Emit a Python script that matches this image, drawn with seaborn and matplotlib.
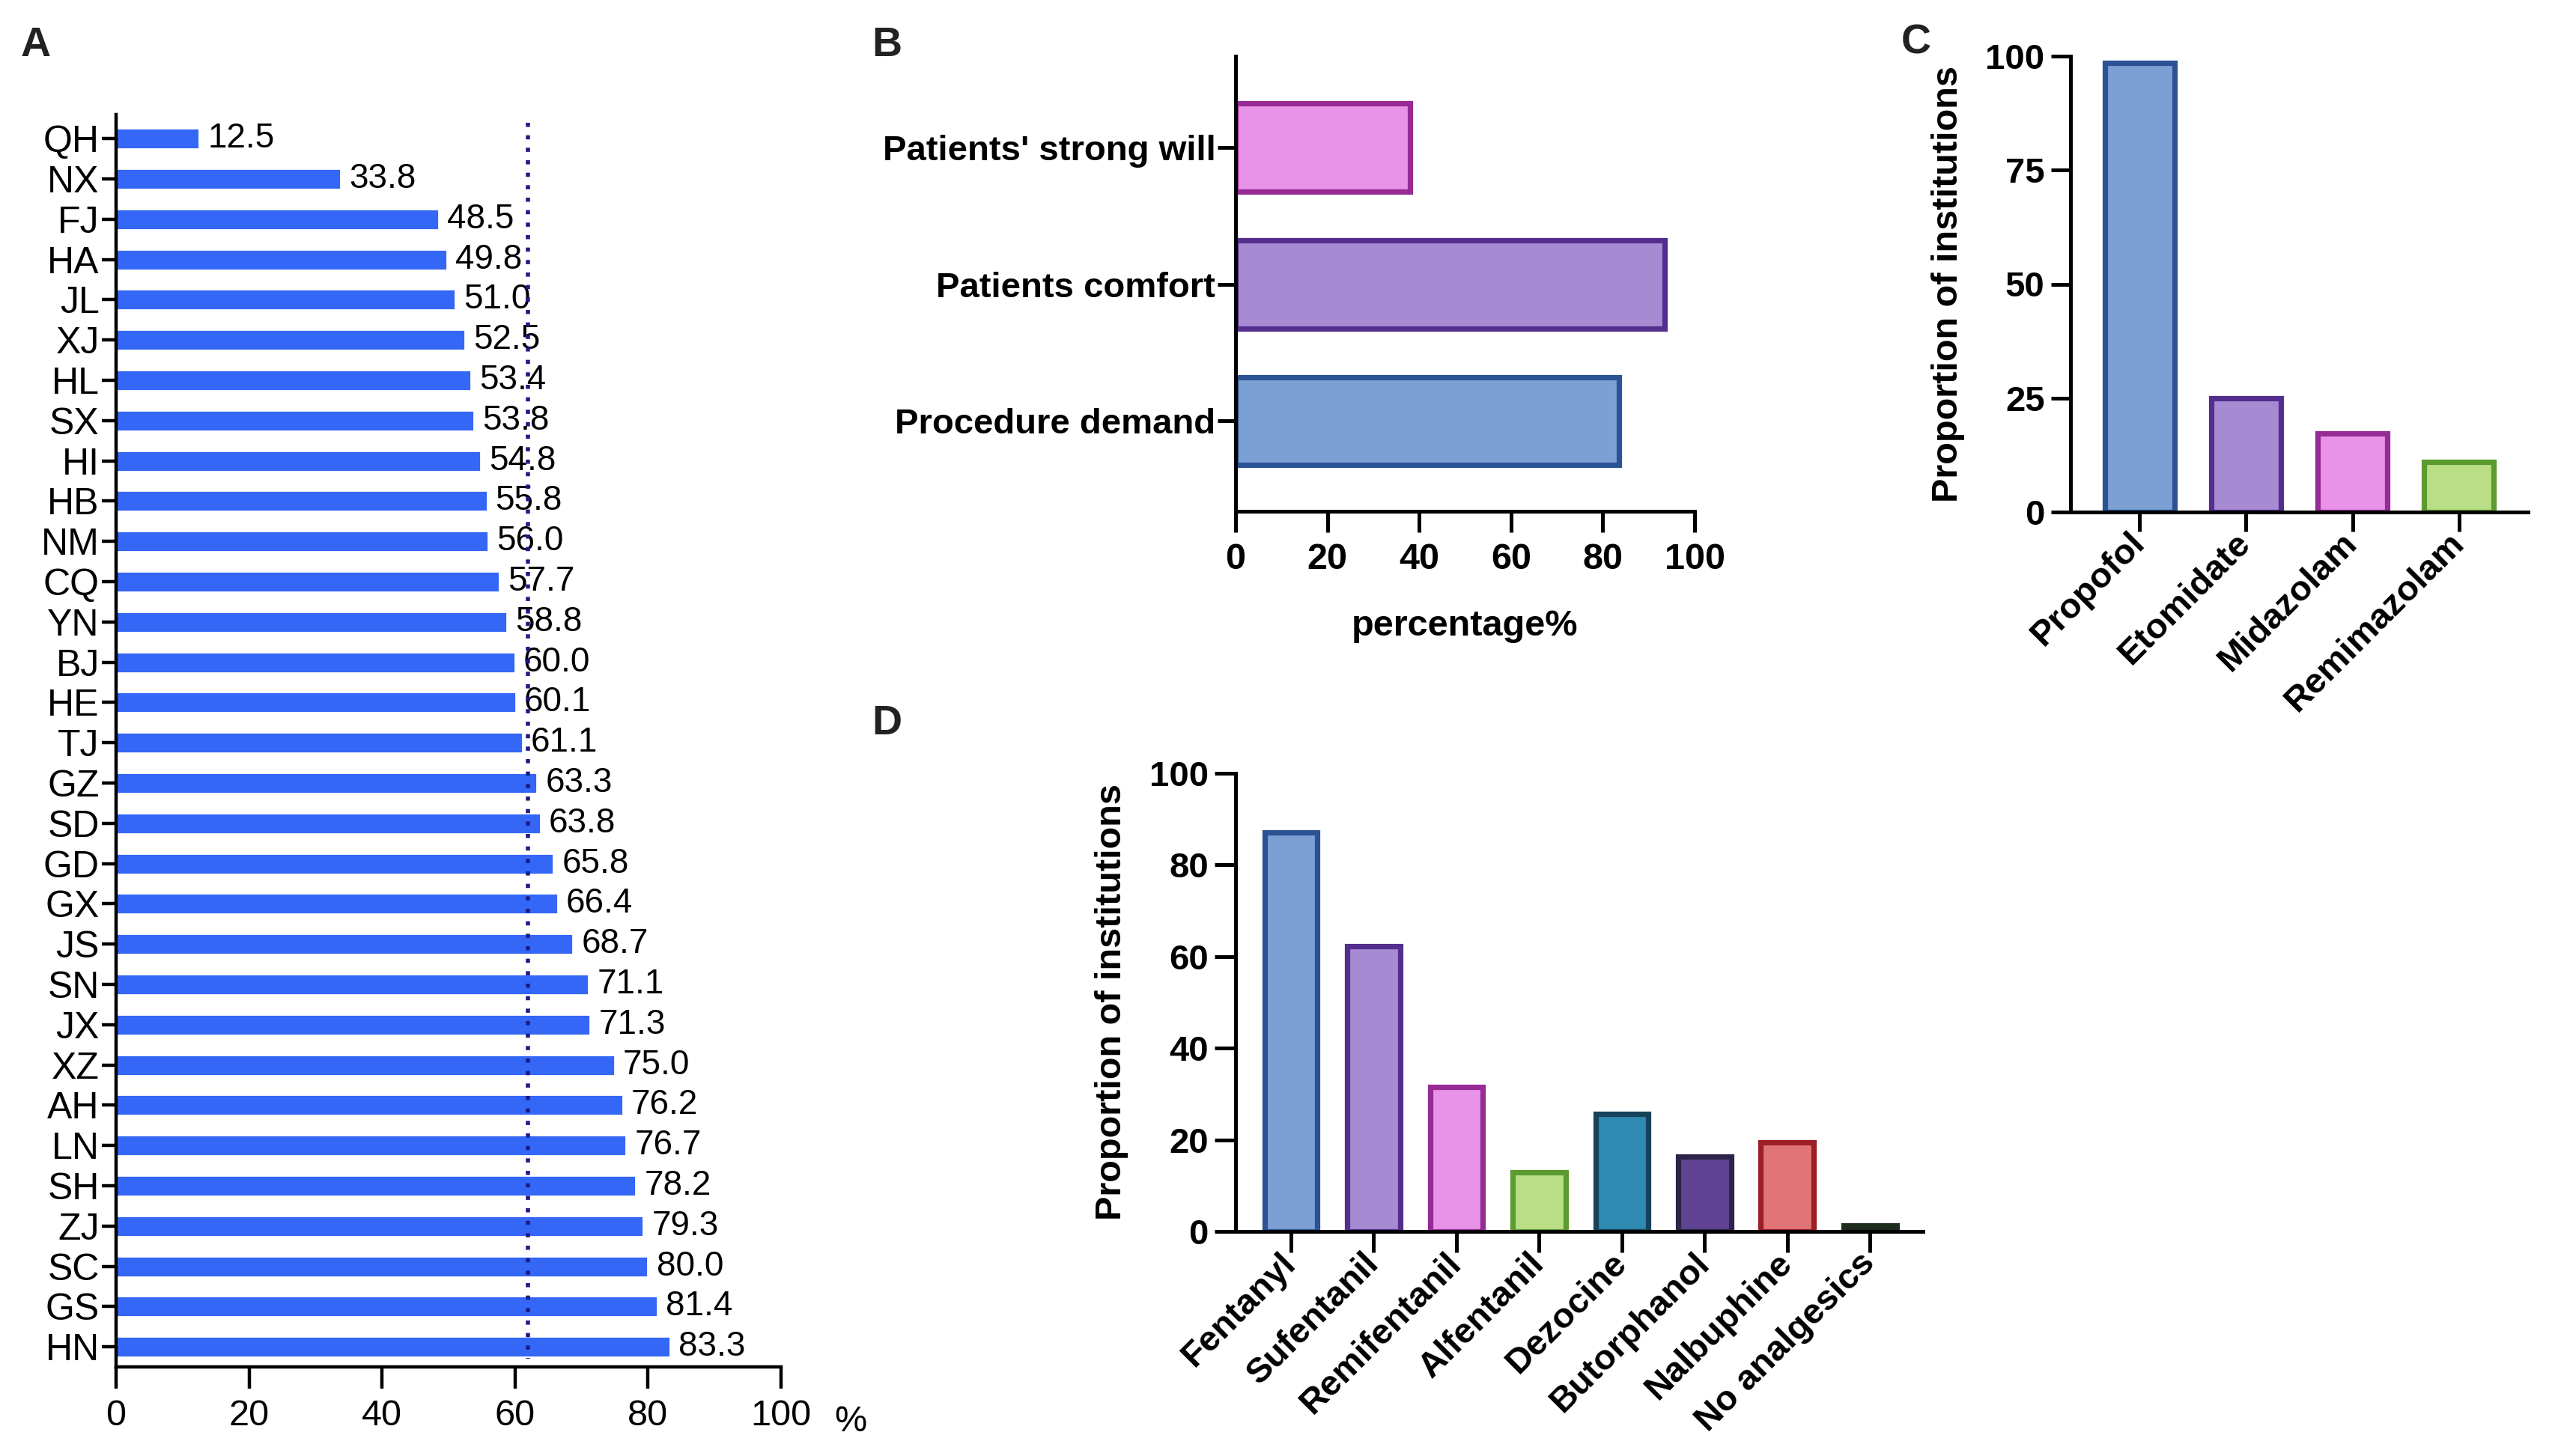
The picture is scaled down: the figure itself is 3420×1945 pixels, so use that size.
import matplotlib
matplotlib.use("Agg")
import matplotlib.pyplot as plt
import seaborn as sns

# Panel A: rate by province
provinces = ["QH", "NX", "FJ", "HA", "JL", "XJ", "HL", "SX", "HI", "HB", "NM",
             "CQ", "YN", "BJ", "HE", "TJ", "GZ", "SD", "GD", "GX", "JS", "SN",
             "JX", "XZ", "AH", "LN", "SH", "ZJ", "SC", "GS", "HN"]
province_rates = [12.5, 33.8, 48.5, 49.8, 51.0, 52.5, 53.4, 53.8, 54.8, 55.8, 56.0,
                  57.7, 58.8, 60.0, 60.1, 61.1, 63.3, 63.8, 65.8, 66.4, 68.7, 71.1,
                  71.3, 75.0, 76.2, 76.7, 78.2, 79.3, 80.0, 81.4, 83.3]

# Panel B: reasons
reasons = ["Patients' strong will", "Patients comfort", "Procedure demand"]
reason_pct = [38.0, 93.4, 83.6]

# Panel C: sedatives
sedatives = ["Propofol", "Etomidate", "Midazolam", "Remimazolam"]
sedative_pct = [98.5, 25.0, 17.2, 11.0]

# Panel D: analgesics
analgesics = ["Fentanyl", "Sufentanil", "Remifentanil", "Alfentanil",
              "Dezocine", "Butorphanol", "Nalbuphine", "No analgesics"]
analgesic_pct = [87.1, 62.3, 31.5, 12.9, 25.6, 16.4, 19.4, 1.3]

BLUE, PURPLE, PINK, GREEN = "#7DA0D4", "#A68BD2", "#E993E8", "#B9DE86"
BLUE_E, PURPLE_E, PINK_E, GREEN_E = "#2B5294", "#542E8E", "#962B95", "#5B9B2F"

reason_fill = [PINK, PURPLE, BLUE]
reason_edge = [PINK_E, PURPLE_E, BLUE_E]
sed_fill = [BLUE, PURPLE, PINK, GREEN]
sed_edge = [BLUE_E, PURPLE_E, PINK_E, GREEN_E]
ana_fill = [BLUE, PURPLE, PINK, GREEN, "#2E8AB1", "#604493", "#E07479", "#1C1C1C"]
ana_edge = [BLUE_E, PURPLE_E, PINK_E, GREEN_E, "#17425C", "#2E2449", "#9B1F24", "#1E2E1E"]

sns.set_style("ticks", {"axes.edgecolor": "black", "xtick.color": "black",
                        "ytick.color": "black", "text.color": "black",
                        "axes.labelcolor": "black"})
plt.rcParams["font.family"] = ["Liberation Sans", "DejaVu Sans"]

W, H = 3420, 1945
fig = plt.figure(figsize=(W / 200, H / 200), dpi=200)


def box(l, t, r, b):
    return [l / W, 1 - b / H, (r - l) / W, (b - t) / H]


def bold_ticks(ax):
    for lab in ax.get_xticklabels() + ax.get_yticklabels():
        lab.set_fontweight("bold")


def set_edges(ax, edges, lw=2.6):
    for patch, ec in zip(ax.patches, edges):
        patch.set_edgecolor(ec)
        patch.set_linewidth(lw)


# ---- A ----
axA = fig.add_axes(box(155, 153, 1043, 1826))
sns.barplot(x=province_rates, y=provinces, color="#3567F6", saturation=1,
            width=0.52, orient="h", ax=axA)
axA.bar_label(axA.containers[0], fmt="%.1f", padding=4, fontsize=16.5)
mean_rate = sum(province_rates) / len(province_rates)
axA.vlines(mean_rate, -0.4, 30.3, colors="#1B1B8A", linestyles=(0, (1, 2)),
           linewidth=2, zorder=5)
axA.set_xlim(0, 100)
axA.set_ylim(30.5, -0.6)
axA.set_xticks(range(0, 101, 20))
axA.set_xlabel("")
axA.set_ylabel("")
axA.tick_params(axis="y", length=7, width=1.6, pad=1, labelsize=18)
axA.tick_params(axis="x", length=10.5, width=1.6, pad=5, labelsize=17.5)
for s in ["left", "bottom"]:
    axA.spines[s].set_linewidth(1.6)
sns.despine(ax=axA)
fig.text(1136 / W, 1 - 1899 / H, "%", ha="center", va="center", fontsize=17.5)

# ---- B ----
axB = fig.add_axes(box(1650, 75, 2263, 683))
sns.barplot(x=reason_pct, y=reasons, hue=reasons, palette=reason_fill,
            saturation=1, width=0.645, orient="h", legend=False, ax=axB)
set_edges(axB, reason_edge)
axB.set_xlim(0, 100)
axB.set_ylim(2.66, -0.67)
axB.set_xticks(range(0, 101, 20))
axB.set_ylabel("")
axB.set_xlabel("percentage%", fontsize=17.5, fontweight="bold", labelpad=16)
axB.tick_params(axis="y", length=8.6, width=1.8, pad=1, labelsize=17)
axB.tick_params(axis="x", length=10, width=1.8, pad=5, labelsize=17.5)
bold_ticks(axB)
for s in ["left", "bottom"]:
    axB.spines[s].set_linewidth(1.8)
sns.despine(ax=axB)

# ---- C ----
axC = fig.add_axes(box(2765, 75, 3376, 684))
sns.barplot(x=sedatives, y=sedative_pct, hue=sedatives, palette=sed_fill,
            saturation=1, width=0.65, legend=False, ax=axC)
set_edges(axC, sed_edge)
axC.set_xlim(-0.65, 3.65)
axC.set_ylim(0, 100)
axC.set_yticks([0, 25, 50, 75, 100])
axC.set_xlabel("")
axC.set_ylabel("Proportion of institutions", fontsize=17.5, fontweight="bold",
               labelpad=10)
axC.tick_params(axis="both", length=9.4, width=1.8, pad=3, labelsize=17)
plt.setp(axC.get_xticklabels(), rotation=45, ha="right", va="center",
         rotation_mode="anchor")
bold_ticks(axC)
for s in ["left", "bottom"]:
    axC.spines[s].set_linewidth(1.8)
sns.despine(ax=axC)

# ---- D ----
axD = fig.add_axes(box(1650, 1033, 2568, 1645))
sns.barplot(x=analgesics, y=analgesic_pct, hue=analgesics, palette=ana_fill,
            saturation=1, width=0.64, legend=False, ax=axD)
set_edges(axD, ana_edge)
axD.set_xlim(-0.67, 7.64)
axD.set_ylim(0, 100)
axD.set_yticks(range(0, 101, 20))
axD.set_xlabel("")
axD.set_ylabel("Proportion of institutions", fontsize=17.5, fontweight="bold",
               labelpad=10)
axD.tick_params(axis="both", length=10, width=1.8, pad=3, labelsize=17)
plt.setp(axD.get_xticklabels(), rotation=45, ha="right", va="center",
         rotation_mode="anchor")
bold_ticks(axD)
for s in ["left", "bottom"]:
    axD.spines[s].set_linewidth(1.8)
sns.despine(ax=axD)

# panel letters
for letter, (px, py) in zip("ABCD", [(48, 61), (1184, 61), (2559, 57), (1184, 967)]):
    fig.text(px / W, 1 - py / H, letter, ha="center", va="center",
             fontsize=20, fontweight="bold", color="#222222")

fig.savefig("out.png", dpi=200, facecolor="white")
